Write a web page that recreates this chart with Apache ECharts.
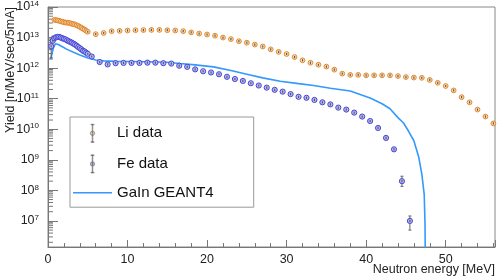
<!DOCTYPE html>
<html><head><meta charset="utf-8">
<script src="https://cdn.jsdelivr.net/npm/echarts@6/dist/echarts.min.js"></script>
<style>html,body{margin:0;padding:0;background:#fff}#c{width:498px;height:279px}</style>
</head><body><div id="c"></div>
<script>
// ---- data ----
const liX = [0.8,1.0,1.2,1.4,1.6,1.8,2.0,2.2,2.4,2.6,2.8,3.0,3.2,3.4,3.6,3.8,4.0,4.2,4.4,4.6,4.8,5.0,
  6,7,8,9,10,11,12,13,14,15,16,17,18,19,20,21,22,23,24,25,26,27,28,29,30,31,32,33,34,35,36,37,38,39,40,41,42,43,44,45,46,47,48,49,50,51,52,53,54,55,56];
const liY = [3.8e13,3.72e13,3.63e13,3.55e13,3.39e13,3.31e13,3.16e13,3.09e13,3.09e13,3.02e13,2.95e13,2.82e13,2.75e13,2.69e13,2.51e13,2.4e13,2.24e13,2.09e13,1.95e13,1.82e13,1.66e13,1.55e13,
  1.29e13,1.41e13,1.62e13,1.66e13,1.7e13,1.74e13,1.76e13,1.78e13,1.78e13,1.74e13,1.7e13,1.62e13,1.48e13,1.35e13,1.26e13,1.15e13,1.0e13,8.9e12,7.6e12,6.8e12,5.9e12,5.1e12,4.1e12,3.4e12,2.9e12,2.3e12,1.8e12,1.5e12,1.29e12,1.12e12,8.9e11,6.6e11,6.0e11,6.0e11,5.8e11,5.8e11,5.8e11,5.8e11,5.5e11,5.1e11,4.9e11,4.8e11,4.1e11,3.3e11,2.6e11,1.86e11,1.12e11,7.6e10,4.4e10,2.6e10,1.55e10];

const feX = [0.4,0.6,0.8,1.0,1.2,1.4,1.6,1.8,2.0,2.2,2.4,2.6,2.8,3.0,3.2,3.4,3.6,3.8,4.0,4.2,4.4,4.6,4.8,5.0,
  5.5,6.5,7.5,8.5,9.5,10.5,11.5,12.5,13.5,14.5,15.5,16.5,17.5,18.5,19.5,20.5,21.5,22.5,23.5,24.5,25.5,26.5,27.5,28.5,29.5,30.5,31.5,32.5,33.5,34.5,35.5,36.5,37.5,38.5,39.5,40.5,41.5,42.5,43.5,44.5,45.5];
const feY = [5.2e12,7.9e12,9.5e12,1.02e13,1.05e13,1.05e13,1.0e13,9.5e12,9.1e12,8.7e12,8.1e12,7.6e12,7.2e12,6.8e12,6.3e12,5.9e12,5.4e12,4.9e12,4.5e12,4.1e12,3.7e12,3.5e12,3.2e12,2.95e12,
  2.4e12,1.58e12,1.32e12,1.45e12,1.48e12,1.48e12,1.48e12,1.51e12,1.51e12,1.45e12,1.41e12,1.2e12,1.1e12,9.1e11,7.9e11,7.2e11,6.3e11,5.2e11,4.4e11,3.8e11,3.2e11,2.7e11,2.3e11,1.95e11,1.7e11,1.41e11,1.15e11,1.07e11,9.1e10,7.6e10,6.5e10,5.1e10,4.4e10,3.5e10,2.6e10,1.86e10,1.1e10,5.2e9,2.2e9,2.0e8,1.0e7];

// visible error bars
const feErrX  = [0.4, 0.6, 44.5, 45.5];
const feErrLo = [2.2e12, 5.0e12, 1.35e8, 5.0e6];
const feErrHi = [8.5e12, 1.1e13, 2.9e8, 1.45e7];

const g4X = [0.35,0.5,0.7,0.95,1.3,1.8,2.4,3.2,4.0,5.0,6.0,7.0,8.5,10.5,12.5,14.9,16.6,18.5,20.8,23.0,25.0,27.0,29.2,31.5,33.4,35.5,38.0,40.5,42.0,43.0,44.0,44.7,45.3,46.0,46.6,47.0,47.3,47.4,47.5];
const g4Y = [1.9e12,3.0e12,4.8e12,6.3e12,5.9e12,5.0e12,4.1e12,3.3e12,2.7e12,2.15e12,1.85e12,1.72e12,1.66e12,1.65e12,1.62e12,1.55e12,1.41e12,1.28e12,1.1e12,8.3e11,6.3e11,4.8e11,3.7e11,3.1e11,2.7e11,2.2e11,1.78e11,1.05e11,6.8e10,4.7e10,2.4e10,1.6e10,8.9e9,4.2e9,1.26e9,3.4e8,7.4e7,7.9e6,1e4];

const seriesNames = ['Li data', 'Fe data', 'GaIn GEANT4'];
const xName = 'Neutron energy [MeV]';
const yName = 'Yield [n/MeV/sec/5mA]';
const yMin = 1.4e6, yMax = 1e14, xMin = 0, xMax = 56.2;

// log minor tick values (2..9 x 10^n)
const yMinorTicks = [];
for (let n = 6; n < 14; n++) for (let k = 2; k <= 9; k++) { const v = k * Math.pow(10, n); if (v > yMin && v < yMax) yMinorTicks.push(v); }

const FONT = 'Liberation Sans, Arial, Helvetica, sans-serif';
const LI_FILL = '#f7d6ad', LI_STROKE = '#e2801f';
const FE_FILL = '#b5b5f0', FE_STROKE = '#3a3ad2';
const G4_COLOR = '#3399ff';

function pointRenderer(fill, stroke, r) {
  return function (params, api) {
    const p = api.coord([api.value(0), api.value(1)]);
    return { type: 'group', children: [
      { type: 'circle', shape: { cx: p[0], cy: p[1], r: r }, style: { fill: fill, stroke: stroke, lineWidth: 0.9 } },
      { type: 'rect', shape: { x: p[0] - 0.55, y: p[1] - 1.1, width: 1.1, height: 2.2 }, style: { fill: '#555' } }
    ]};
  };
}
function errRenderer(params, api) {
  const a = api.coord([api.value(0), api.value(1)]);
  const b = api.coord([api.value(0), api.value(2)]);
  return { type: 'group', children: [
    { type: 'line', shape: { x1: a[0], y1: a[1], x2: b[0], y2: b[1] }, style: { stroke: '#666', lineWidth: 1 } },
    { type: 'line', shape: { x1: a[0] - 1.5, y1: a[1], x2: a[0] + 1.5, y2: a[1] }, style: { stroke: '#666', lineWidth: 1 } },
    { type: 'line', shape: { x1: b[0] - 1.5, y1: b[1], x2: b[0] + 1.5, y2: b[1] }, style: { stroke: '#666', lineWidth: 1 } }
  ]};
}
function minorTickRenderer(params, api) {
  const p = api.coord([xMin, api.value(0)]);
  return { type: 'line', shape: { x1: p[0], y1: p[1], x2: p[0] + 5, y2: p[1] }, style: { stroke: '#777', lineWidth: 1 } };
}

const iconPath = 'path://M4.7,0 L5.3,0 L5.3,20 L4.7,20 Z M3.2,0 L6.8,0 L6.8,0.6 L3.2,0.6 Z M3.2,19.4 L6.8,19.4 L6.8,20 L3.2,20 Z M7.4,10 A2.4,2.4 0 1,1 2.6,10 A2.4,2.4 0 1,1 7.4,10 Z';

const chart = echarts.init(document.getElementById('c'), null, { renderer: 'canvas' });
chart.setOption({
  animation: false,
  backgroundColor: '#fff',
  textStyle: { fontFamily: FONT },
  grid: { left: 48, right: 3, top: 7, bottom: 32, show: true, borderColor: '#888', borderWidth: 1, outerBoundsMode: 'none', containLabel: false },
  xAxis: {
    type: 'value', min: xMin, max: xMax, interval: 10,
    name: xName, nameLocation: 'end', nameGap: 0, nameMoveOverlap: false,
    nameTextStyle: { align: 'right', verticalAlign: 'top', padding: [16, 0, 0, 0], fontSize: 12.5, color: '#222', fontFamily: FONT },
    axisLine: { lineStyle: { color: '#777' } },
    axisTick: { inside: true, length: 7, lineStyle: { color: '#777' } },
    minorTick: { show: true, splitNumber: 5, length: 4, lineStyle: { color: '#777' } },
    axisLabel: { fontSize: 12.5, color: '#222', margin: 6, showMaxLabel: false, fontFamily: FONT },
    splitLine: { show: false }
  },
  yAxis: {
    type: 'log', min: yMin, max: yMax, logBase: 10, splitNumber: 8,
    name: yName, nameLocation: 'end', nameGap: 0, nameRotate: 90, nameMoveOverlap: false,
    nameTextStyle: { align: 'right', verticalAlign: 'bottom', padding: [0, 0, 31, 0], fontSize: 12.5, color: '#222', fontFamily: FONT },
    axisLine: { show: true, lineStyle: { color: '#777' } },
    axisTick: { inside: true, length: 10, lineStyle: { color: '#777' } },
    axisLabel: {
      showMinLabel: false, margin: 9, color: '#222',
      formatter: function (v) { return '{b|10}{s|' + Math.round(Math.log10(v)) + '}'; },
      rich: {
        b: { fontSize: 12.5, lineHeight: 14, fontFamily: FONT, color: '#222' },
        s: { fontSize: 8, lineHeight: 14, verticalAlign: 'top', fontFamily: FONT, color: '#222' }
      }
    },
    splitLine: { show: false }
  },
  legend: {
    orient: 'vertical', left: 70, top: 117, z: 20,
    padding: [7, 40, 7, 3], itemGap: 12, itemWidth: 39, itemHeight: 18,
    borderColor: '#999', borderWidth: 1, backgroundColor: '#fff',
    textStyle: { fontSize: 15, color: '#111', fontFamily: FONT },
    data: [
      { name: seriesNames[0], icon: iconPath, itemStyle: { color: LI_FILL, borderColor: '#666', borderWidth: 0.6 } },
      { name: seriesNames[1], icon: iconPath, itemStyle: { color: FE_FILL, borderColor: '#666', borderWidth: 0.6 } },
      { name: seriesNames[2], icon: 'path://M0,9 L39,9 L39,10.6 L0,10.6 Z', itemStyle: { color: G4_COLOR } }
    ]
  },
  series: [
    { name: 'yMinorTicks', type: 'custom', silent: true, renderItem: minorTickRenderer,
      data: yMinorTicks.map(v => [v]), encode: { y: 0 }, z: 1 },
    { name: seriesNames[2], type: 'line', data: g4X.map((x, i) => [x, g4Y[i]]),
      showSymbol: false, symbol: 'none', clip: true, itemStyle: { color: G4_COLOR },
      lineStyle: { color: G4_COLOR, width: 1.6 }, z: 2 },
    { name: 'feErr', type: 'custom', renderItem: errRenderer,
      data: feErrX.map((x, i) => [x, feErrLo[i], feErrHi[i]]), encode: { x: 0, y: [1, 2] }, z: 3 },
    { name: seriesNames[1], type: 'custom', renderItem: pointRenderer(FE_FILL, FE_STROKE, 2.6),
      itemStyle: { color: FE_FILL }, data: feX.map((x, i) => [x, feY[i]]), encode: { x: 0, y: 1 }, z: 4 },
    { name: seriesNames[0], type: 'custom', renderItem: pointRenderer(LI_FILL, LI_STROKE, 2.4),
      itemStyle: { color: LI_FILL }, data: liX.map((x, i) => [x, liY[i]]), encode: { x: 0, y: 1 }, z: 5 }
  ]
});
</script>
</body></html>
